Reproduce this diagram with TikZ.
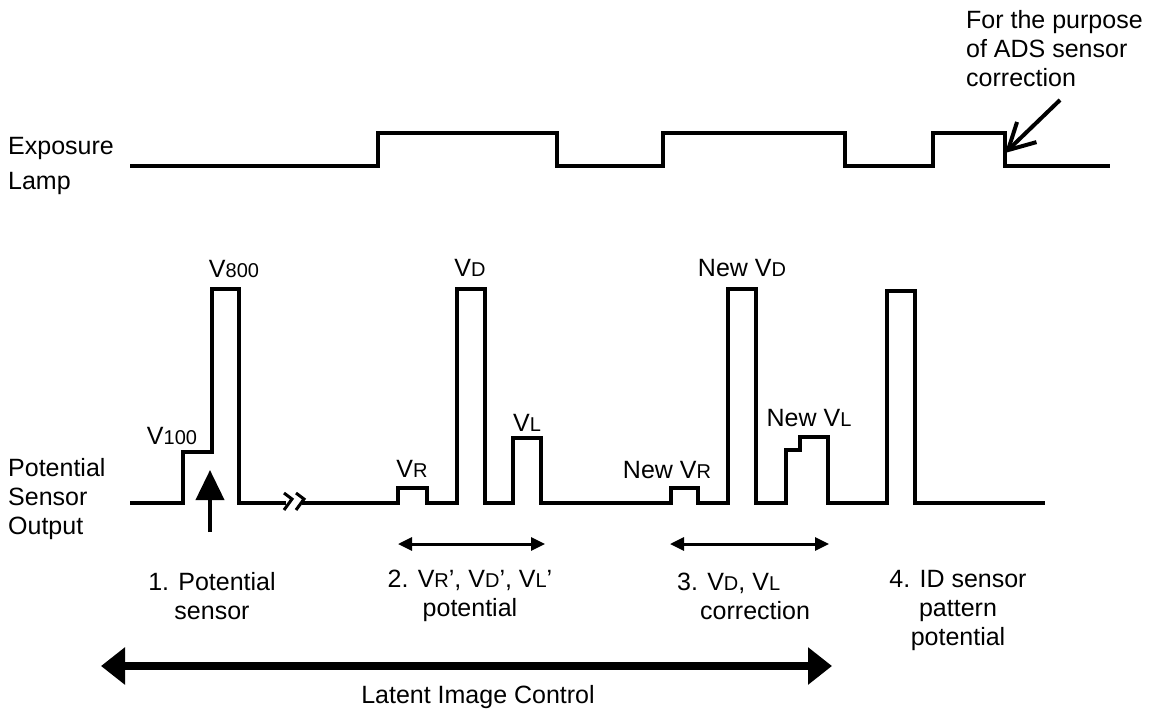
\documentclass[tikz,border=0pt]{standalone}
\usepackage{fontspec}
\setmainfont{Liberation Sans}
\usetikzlibrary{arrows.meta}
\newcommand{\vsub}[1]{{\fontsize{20}{20}\selectfont #1}}

\begin{document}
\begin{tikzpicture}[
  x=1pt,y=-1pt,
  lbl/.style={inner sep=0pt,font=\fontsize{25}{29}\selectfont},
  wave/.style={line width=3.5pt},
  brk/.style={line width=3pt},
  span/.style={{Triangle[length=14pt,width=13pt]}-{Triangle[length=14pt,width=13pt]},line width=3pt},
  bigspan/.style={{Triangle[length=24pt,width=36pt]}-{Triangle[length=24pt,width=36pt]},line width=8pt},
  ptr/.style={-{Triangle[length=30pt,width=28pt]},line width=4pt},
  barb/.style={-{Straight Barb[length=26pt,width=28pt]},line width=4pt},
]
  \useasboundingbox (0,0) rectangle (1161,715);

  % Exposure lamp signal
  \node[lbl,anchor=west,align=left] (lamp) at (8,166) {Exposure\\[6pt]Lamp};
  \draw[wave] (130,166) -- (378,166) -- (378,133) -- (557,133) -- (557,166)
    -- (663,166) -- (663,133) -- (845,133) -- (845,166)
    -- (933,166) -- (933,133) -- (1005,133) -- (1005,166) -- (1110,166);

  % ADS note and its pointer
  \node[lbl,anchor=west,align=left] (ads) at (966,49) {For the purpose\\of ADS sensor\\correction};
  \coordinate (adsA) at (1060,100);
  \coordinate (adsB) at (1005,153);
  \draw[barb] (adsA) -- (adsB);

  % Potential sensor output signal
  \node[lbl,anchor=west,align=left] (pso) at (8,499) {Potential\\Sensor\\Output};
  \draw[wave] (130,503) -- (183,503) -- (183,452) -- (212,452) -- (212,289)
    -- (239,289) -- (239,503) -- (286,503);
  \draw[wave] (302,503) -- (398,503) -- (398,488) -- (427,488) -- (427,503)
    -- (457,503) -- (457,289) -- (485,289) -- (485,503)
    -- (513,503) -- (513,438) -- (541,438) -- (541,503)
    -- (671,503) -- (671,488) -- (698,488) -- (698,503)
    -- (728,503) -- (728,289) -- (756,289) -- (756,503)
    -- (786,503) -- (786,450) -- (800,450) -- (800,437) -- (828,437) -- (828,503)
    -- (887,503) -- (887,291) -- (915,291) -- (915,503) -- (1045,503);
  % break mark
  \draw[brk] (284,493) -- (292,499) -- (284,510);
  \draw[brk] (296,493) -- (304,499) -- (296,510);

  % Level labels
  \node[lbl] (v100) at (172,436) {V\vsub{100}};
  \node[lbl] (v800) at (234,269) {V\vsub{800}};
  \node[lbl] (vd) at (470,268) {V\vsub{D}};
  \node[lbl] (vr) at (412,469) {V\vsub{R}};
  \node[lbl] (vl) at (527,423) {V\vsub{L}};
  \node[lbl] (nvr) at (667,470) {New V\vsub{R}};
  \node[lbl] (nvd) at (742,268) {New V\vsub{D}};
  \node[lbl] (nvl) at (809,418) {New V\vsub{L}};

  % Sensor pointer
  \coordinate (senA) at (210,532);
  \coordinate (senB) at (210,470);
  \draw[ptr] (senA) -- (senB);

  % Step ranges
  \coordinate (r2A) at (398,544);
  \coordinate (r2B) at (545,544);
  \draw[span] (r2A) -- (r2B);
  \coordinate (r3A) at (670,544);
  \coordinate (r3B) at (829,544);
  \draw[span] (r3A) -- (r3B);

  % Step captions
  \node[lbl,align=center] (st1) at (212,596) {1. Potential\\sensor};
  \node[lbl,align=center] (st2) at (470,596) {2. V\vsub{R}', V\vsub{D}', V\vsub{L}'\\potential};
  \node[lbl,anchor=west,align=left] (st3) at (677,596) {3. V\vsub{D}, V\vsub{L}\\\hspace*{23pt}correction};
  \node[lbl,align=center] (st4) at (958,610) {4. ID sensor\\pattern\\potential};

  % Latent image control range
  \coordinate (licA) at (101,666);
  \coordinate (licB) at (832,666);
  \draw[bigspan] (licA) -- (licB);
  \node[lbl] (lic) at (478,697) {Latent Image Control};
\end{tikzpicture}
\end{document}
